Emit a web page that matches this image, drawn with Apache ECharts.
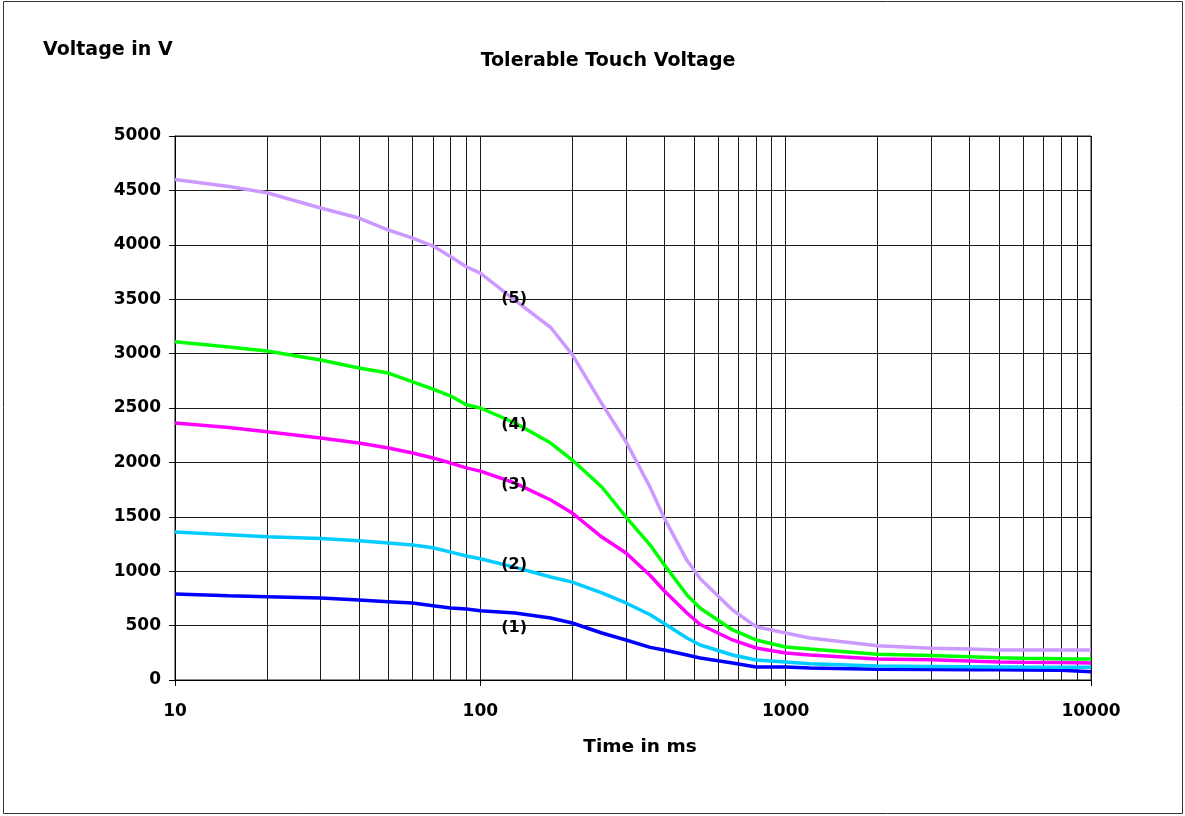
<!DOCTYPE html>
<html>
<head>
<meta charset="utf-8">
<script src="https://cdn.jsdelivr.net/npm/echarts@6/dist/echarts.min.js"></script>
<style>
html,body{margin:0;padding:0;background:#fff;}
#chart{width:1185px;height:816px;}
</style>
</head>
<body>
<div id="chart"></div>
<script>
// ---- data ----
const times = [10, 15, 20, 30, 40, 50, 60, 70, 80, 90, 100, 130, 170, 200, 250, 300, 360, 400, 475, 525, 670, 800, 1000, 1200, 2000, 3000, 4000, 5000, 6000, 8000, 10000];
const curve1 = [790, 775, 766, 753, 735, 720, 707, 683, 662, 653, 637, 616, 570, 524, 432, 368, 300, 276, 230, 202, 156, 119, 119, 110, 98, 97, 95, 94, 93, 90, 76];
const curve2 = [1360, 1335, 1317, 1300, 1280, 1259, 1241, 1216, 1175, 1140, 1115, 1035, 947, 900, 800, 708, 600, 520, 386, 322, 230, 184, 165, 150, 129, 125, 122, 120, 119, 118, 117];
const curve3 = [2362, 2320, 2282, 2224, 2178, 2132, 2086, 2040, 1994, 1950, 1920, 1810, 1654, 1535, 1314, 1167, 960, 820, 616, 510, 368, 294, 248, 230, 193, 185, 175, 165, 163, 160, 156];
const curve4 = [3109, 3060, 3024, 2941, 2867, 2821, 2741, 2674, 2610, 2530, 2500, 2362, 2178, 2022, 1774, 1498, 1240, 1060, 781, 660, 460, 368, 303, 285, 236, 225, 214, 205, 200, 195, 193];
const curve5 = [4600, 4535, 4478, 4338, 4246, 4136, 4062, 3988, 3890, 3798, 3740, 3490, 3240, 2990, 2540, 2190, 1770, 1490, 1100, 930, 643, 490, 432, 386, 315, 291, 285, 276, 276, 276, 276];
const curveLabels = ['(1)', '(2)', '(3)', '(4)', '(5)'];
const labelTime = [129, 129, 129, 129, 129];
const labelVolt = [478, 1057, 1792, 2343, 3501];
const minorTimes = [20, 30, 40, 50, 60, 70, 80, 90, 200, 300, 400, 500, 600, 700, 800, 900, 2000, 3000, 4000, 5000, 6000, 7000, 8000, 9000];
const xTickLabels = ['10', '100', '1000', '10000'];
const titleText = 'Tolerable Touch Voltage';
const yName = 'Voltage in V';
const xName = 'Time in ms';

const colors = ['#0000FF', '#00CCFF', '#FF00FF', '#00FF00', '#CC99FF'];
const curves = [curve1, curve2, curve3, curve4, curve5];
const FONT = '"DejaVu Sans", "Liberation Sans", Arial, sans-serif';
const gridColor = '#1a1a1a';

const chart = echarts.init(document.getElementById('chart'), null, {renderer: 'canvas'});

const lineSeries = curves.map((c, i) => ({
  type: 'line',
  name: curveLabels[i],
  data: times.map((t, k) => [t, c[k]]),
  showSymbol: false,
  symbol: 'none',
  smooth: false,
  lineStyle: {color: colors[i], width: 3.5},
  z: 3 + i,
  silent: true
}));

lineSeries[0].markLine = {
  silent: true,
  symbol: ['none', 'none'],
  label: {show: false},
  lineStyle: {color: gridColor, width: 1, type: 'solid'},
  data: minorTimes.map(t => ({xAxis: t})),
  z: 1
};

const option = {
  animation: false,
  backgroundColor: '#fff',
  grid: {left: 175, right: 94, top: 136, bottom: 136, show: true, borderColor: gridColor, borderWidth: 1},
  xAxis: {
    type: 'log',
    logBase: 10,
    min: 10,
    max: 10000,
    axisLine: {show: true, lineStyle: {color: '#000', width: 1}},
    axisTick: {show: true, length: 6, lineStyle: {color: '#000'}},
    axisLabel: {
      margin: 23,
      fontFamily: FONT, fontWeight: 'bold', fontSize: 17, color: '#000',
      formatter: v => { const i = Math.round(Math.log10(v)) - 1; return xTickLabels[i] !== undefined ? xTickLabels[i] : ''; }
    },
    splitLine: {show: true, lineStyle: {color: gridColor, width: 1}},
    minorTick: {show: false},
    minorSplitLine: {show: false}
  },
  yAxis: {
    type: 'value',
    min: 0,
    max: 5000,
    interval: 500,
    axisLine: {show: true, lineStyle: {color: '#000', width: 1}},
    axisTick: {show: true, length: 6, lineStyle: {color: '#000'}},
    axisLabel: {margin: 14, fontFamily: FONT, fontWeight: 'bold', fontSize: 17, color: '#000',
      formatter: v => String(v)},
    splitLine: {show: true, lineStyle: {color: gridColor, width: 1}}
  },
  series: lineSeries.concat([{
    type: 'scatter',
    data: curveLabels.map((l, i) => [labelTime[i], labelVolt[i], l]),
    symbolSize: 1,
    itemStyle: {opacity: 0},
    silent: true,
    z: 20,
    label: {
      show: true,
      position: 'inside',
      formatter: p => p.value[2],
      fontFamily: FONT, fontWeight: 'bold', fontSize: 16, color: '#000',
      textBorderWidth: 0, textBorderColor: 'transparent', opacity: 1
    },
    emphasis: {disabled: true}
  }]),
  graphic: [
    {type: 'rect', silent: true, z: 0, shape: {x: 3.5, y: 1.5, width: 1179, height: 812},
     style: {fill: 'none', stroke: '#333', lineWidth: 1}},
    {type: 'text', x: 608, y: 61, silent: true,
     style: {text: titleText, font: 'bold 19px ' + FONT, fill: '#000', textAlign: 'center', textVerticalAlign: 'middle'}},
    {type: 'text', x: 43, y: 50, silent: true,
     style: {text: yName, font: 'bold 19px ' + FONT, fill: '#000', textAlign: 'left', textVerticalAlign: 'middle'}},
    {type: 'text', x: 640, y: 747, silent: true,
     style: {text: xName, font: 'bold 18.5px ' + FONT, fill: '#000', textAlign: 'center', textVerticalAlign: 'middle'}}
  ]
};
chart.setOption(option);
</script>
</body>
</html>
